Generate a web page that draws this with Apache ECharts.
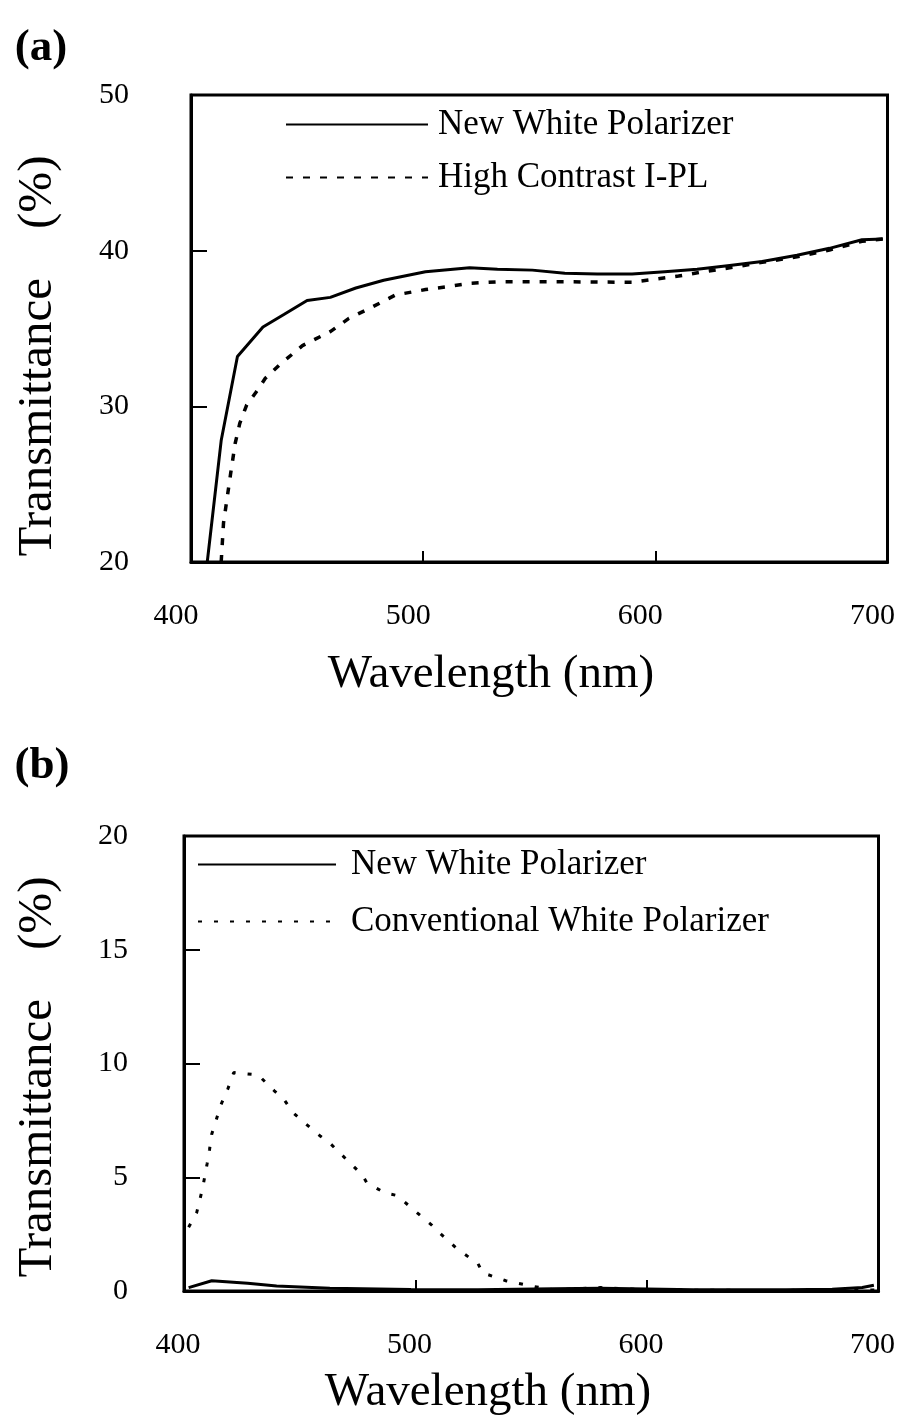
<!DOCTYPE html>
<html>
<head>
<meta charset="utf-8">
<script src="https://cdn.jsdelivr.net/npm/echarts@6/dist/echarts.min.js"></script>
<style>
  html, body { margin: 0; padding: 0; background: #fff; }
  #chart { width: 898px; height: 1415px; }
</style>
</head>
<body>
<div id="chart"></div>
<script>
// panel (a): transmittance 20-50 %
const wlNewA = [407, 413, 420, 431, 440, 450, 460, 471, 483, 501, 520, 532, 547, 561, 575, 590, 604, 618, 632, 646, 661, 675, 689, 698];
const tNewA = [20, 27.8, 33.2, 35.1, 35.9, 36.8, 37.0, 37.6, 38.1, 38.65, 38.9, 38.8, 38.75, 38.55, 38.5, 38.5, 38.65, 38.8, 39.05, 39.3, 39.7, 40.15, 40.7, 40.75];
const wlHcA = [413, 414, 417, 419, 421, 424, 428, 432, 438, 448, 460, 468, 477, 488, 501, 511, 520, 532, 561, 590, 610, 621, 632, 646, 661, 675, 689, 698];
const tHcA = [20, 22.5, 25.6, 27.6, 28.9, 30.1, 30.9, 31.8, 32.65, 33.9, 34.8, 35.65, 36.3, 37.15, 37.5, 37.7, 37.9, 38.0, 38.0, 37.97, 38.37, 38.65, 38.9, 39.25, 39.6, 40.04, 40.6, 40.75];

// panel (b): transmittance 0-20 %
const wlNewB = [402, 412, 427.5, 440, 463, 498, 527, 560, 580, 620, 660, 680, 693, 698];
const tNewB = [0.15, 0.45, 0.34, 0.22, 0.12, 0.07, 0.05, 0.1, 0.12, 0.05, 0.05, 0.08, 0.15, 0.25];
const wlConvB = [402, 405.5, 408, 410, 411, 412, 414, 416, 419, 421.5, 432, 439, 443, 447, 452, 459, 463, 470, 477, 479, 487, 492, 500, 507, 511, 518, 527, 529, 539, 551, 560, 570, 580, 600, 650, 700];
const tConvB = [2.8, 3.45, 4.5, 5.6, 6.2, 6.9, 7.55, 8.2, 8.9, 9.6, 9.5, 8.8, 8.45, 7.85, 7.4, 6.8, 6.5, 5.8, 5.1, 4.75, 4.3, 4.2, 3.5, 2.9, 2.5, 1.85, 1.2, 0.8, 0.45, 0.2, 0.05, 0.1, 0.15, 0.05, 0.02, 0.05];

const xTicks = [400, 500, 600, 700];
const yTicksA = [20, 30, 40, 50];
const yTicksB = [0, 5, 10, 15, 20];

const serif = '"Liberation Serif", "DejaVu Serif", serif';
const pair = (xs, ys) => xs.map((x, i) => [x, ys[i]]);

const chart = echarts.init(document.getElementById('chart'));

function xAxisFor(gridIndex, shift) {
  return {
    type: 'value', gridIndex: gridIndex,
    min: xTicks[0], max: xTicks[xTicks.length - 1], interval: 100,
    axisLine: { show: true, lineStyle: { color: '#000', width: 3 } },
    axisTick: { show: true, inside: true, length: 11, lineStyle: { color: '#000', width: 2 } },
    axisLabel: { margin: 39, color: '#000', fontFamily: serif, fontSize: 30, padding: [0, shift, 0, 0] },
    splitLine: { show: false }
  };
}

function yAxisFor(gridIndex, ticks, margin) {
  return {
    type: 'value', gridIndex: gridIndex,
    min: ticks[0], max: ticks[ticks.length - 1], interval: ticks[1] - ticks[0],
    axisLine: { show: true, lineStyle: { color: '#000', width: 3 } },
    axisTick: { show: true, inside: true, length: 16, lineStyle: { color: '#000', width: 2 } },
    axisLabel: { margin: margin, color: '#000', fontFamily: serif, fontSize: 30 },
    splitLine: { show: false }
  };
}

// 图例：长线段样本 + 衬线字体
function legendFor(names, left, top, width, gap, pad) {
  return {
    orient: 'vertical', left: left, top: top, padding: 0,
    itemWidth: width, itemHeight: 4, itemGap: gap,
    itemStyle: { opacity: 0 },
    selectedMode: false,
    data: names,
    textStyle: { color: '#000', fontFamily: serif, fontSize: 35, padding: [0, 0, 0, pad] }
  };
}

const option = {
  animation: false,
  backgroundColor: '#fff',
  grid: [
    { left: 191, right: 8, top: 95, bottom: 853, show: true, borderColor: '#000', borderWidth: 3 },
    { left: 184, right: 13, top: 836, bottom: 124, show: true, borderColor: '#000', borderWidth: 3 }
  ],
  xAxis: [xAxisFor(0, 30), xAxisFor(1, 12)],
  yAxis: [yAxisFor(0, yTicksA, 62), yAxisFor(1, yTicksB, 56)],
  legend: [
    legendFor(['New White Polarizer', 'High Contrast I-PL'], 285, 107, 142, 18, 5),
    legendFor(['New White Polarizer ', 'Conventional White Polarizer'], 197, 847, 138, 22, 10)
  ],
  series: [
    {
      name: 'New White Polarizer', type: 'line', xAxisIndex: 0, yAxisIndex: 0,
      data: pair(wlNewA, tNewA), symbol: 'none',
      lineStyle: { color: '#000', width: 3 }
    },
    {
      name: 'High Contrast I-PL', type: 'line', xAxisIndex: 0, yAxisIndex: 0,
      data: pair(wlHcA, tHcA), symbol: 'none',
      lineStyle: { color: '#000', width: 3.5, type: [7, 10] }
    },
    {
      name: 'New White Polarizer ', type: 'line', xAxisIndex: 1, yAxisIndex: 1,
      data: pair(wlNewB, tNewB), symbol: 'none',
      lineStyle: { color: '#000', width: 3 }
    },
    {
      name: 'Conventional White Polarizer', type: 'line', xAxisIndex: 1, yAxisIndex: 1,
      data: pair(wlConvB, tConvB), symbol: 'none',
      lineStyle: { color: '#000', width: 3, type: [4, 12] }
    }
  ],
  graphic: [
    { type: 'text', x: 41, y: 48, style: { text: '(a)', fill: '#000', font: 'bold 45px ' + serif, textAlign: 'center', textVerticalAlign: 'middle' } },
    { type: 'text', x: 42, y: 766, style: { text: '(b)', fill: '#000', font: 'bold 45px ' + serif, textAlign: 'center', textVerticalAlign: 'middle' } },
    { type: 'text', x: 38, y: 356, rotation: Math.PI / 2, style: { text: 'Transmittance    (%)', fill: '#000', font: '49px ' + serif, textAlign: 'center', textVerticalAlign: 'middle' } },
    { type: 'text', x: 38, y: 1077, rotation: Math.PI / 2, style: { text: 'Transmittance    (%)', fill: '#000', font: '49px ' + serif, textAlign: 'center', textVerticalAlign: 'middle' } },
    { type: 'text', x: 491, y: 675, style: { text: 'Wavelength (nm)', fill: '#000', font: '47px ' + serif, textAlign: 'center', textVerticalAlign: 'middle' } },
    { type: 'text', x: 488, y: 1393, style: { text: 'Wavelength (nm)', fill: '#000', font: '47px ' + serif, textAlign: 'center', textVerticalAlign: 'middle' } }
  ]
};

chart.setOption(option);

window.addEventListener('resize', () => {
  chart.resize();
});
</script>
</body>
</html>
